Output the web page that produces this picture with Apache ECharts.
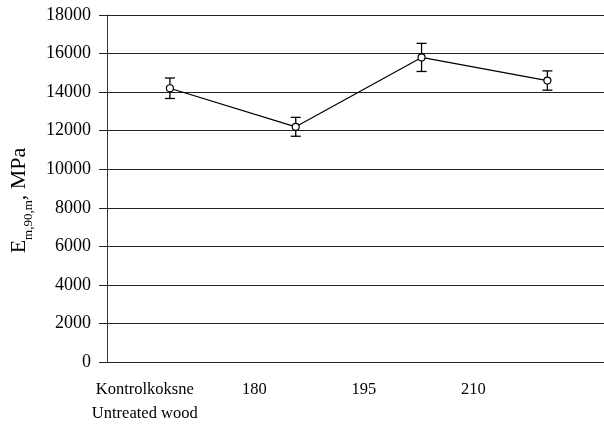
<!DOCTYPE html>
<html>
<head>
<meta charset="utf-8">
<script src="https://cdn.jsdelivr.net/npm/echarts@6/dist/echarts.min.js"></script>
<style>
  html, body { margin: 0; padding: 0; background: #fff; }
  #chart { width: 604px; height: 426px; }
</style>
</head>
<body>
<div id="chart"></div>
<script>
// Treatment temperatures (°C) and the untreated reference
const categories = ['Kontrolkoksne\nUntreated wood', '180', '195', '210'];
// Mean modulus of elasticity, MPa
const meanValues = [14200, 12200, 15800, 14600];
// Standard deviation, MPa (drawn as ± error bars)
const stdDev = [530, 490, 730, 500];
// Value axis ticks
const yTicks = [0, 2000, 4000, 6000, 8000, 10000, 12000, 14000, 16000, 18000];

const font = 'Liberation Serif, Times New Roman, serif';
const chart = echarts.init(document.getElementById('chart'), null, { renderer: 'canvas' });

// Points sit at the centre of each category slot (index 0..3)
const lineData = meanValues.map((v, i) => [i, v]);
const errorData = meanValues.map((v, i) => [i, v - stdDev[i], v + stdDev[i]]);

chart.setOption({
  animation: false,
  backgroundColor: '#fff',
  grid: [
    // plot area; the last category slot is cut off by the right edge
    { left: 107, right: 0, top: 15, bottom: 64 },
    // separate strip carrying the category captions
    { left: 90, width: 438, top: 15, bottom: 64 }
  ],
  xAxis: [
    {
      type: 'value', gridIndex: 0, min: -0.5, max: 3.45,
      axisLine: { show: true, onZero: false, lineStyle: { color: '#222', width: 1 } },
      axisTick: { show: false }, axisLabel: { show: false }, splitLine: { show: false }
    },
    {
      type: 'category', gridIndex: 1, data: categories, boundaryGap: true,
      axisLine: { show: false }, axisTick: { show: false },
      axisLabel: {
        interval: 0, margin: 19, color: '#000', fontFamily: font,
        fontSize: 16.5, lineHeight: 24
      }
    }
  ],
  yAxis: [
    {
      type: 'value', gridIndex: 0,
      min: yTicks[0], max: yTicks[yTicks.length - 1], interval: 2000,
      axisLine: { show: true, onZero: false, lineStyle: { color: '#333', width: 1 } },
      axisTick: { show: true, length: 8, lineStyle: { color: '#222', width: 1 } },
      splitLine: { show: true, lineStyle: { color: '#222', width: 1 } },
      axisLabel: {
        margin: 16, color: '#000', fontFamily: font, fontSize: 18,
        formatter: v => String(v)
      },
      name: '{e|E}{s|m,90,m}{e|, MPa}',
      nameLocation: 'middle', nameGap: 70, nameRotate: 90,
      nameTextStyle: {
        fontFamily: font, color: '#000', padding: [0, 24, 0, 0],
        rich: {
          e: { fontFamily: font, fontSize: 22, color: '#000', lineHeight: 24, verticalAlign: 'bottom' },
          s: { fontFamily: font, fontSize: 13, color: '#000', lineHeight: 24, verticalAlign: 'bottom', padding: [0, 0, -5, 0] }
        }
      }
    },
    {
      type: 'value', gridIndex: 1, min: 0, max: 18000, show: false
    }
  ],
  series: [
    {
      type: 'line', xAxisIndex: 0, yAxisIndex: 0, data: lineData,
      symbol: 'circle', symbolSize: 7,
      lineStyle: { color: '#000', width: 1.2 },
      itemStyle: { color: '#fff', borderColor: '#000', borderWidth: 1.2 },
      z: 3
    },
    {
      type: 'custom', xAxisIndex: 0, yAxisIndex: 0, data: errorData, z: 2,
      renderItem: function (params, api) {
        const x = api.value(0);
        const lo = api.coord([x, api.value(1)]);
        const hi = api.coord([x, api.value(2)]);
        const hw = 5;
        const st = { stroke: '#000', lineWidth: 1.3 };
        return {
          type: 'group',
          children: [
            { type: 'line', shape: { x1: lo[0], y1: lo[1], x2: hi[0], y2: hi[1] }, style: st },
            { type: 'line', shape: { x1: lo[0] - hw, y1: lo[1], x2: lo[0] + hw, y2: lo[1] }, style: st },
            { type: 'line', shape: { x1: hi[0] - hw, y1: hi[1], x2: hi[0] + hw, y2: hi[1] }, style: st }
          ]
        };
      }
    }
  ]
});
</script>
</body>
</html>
